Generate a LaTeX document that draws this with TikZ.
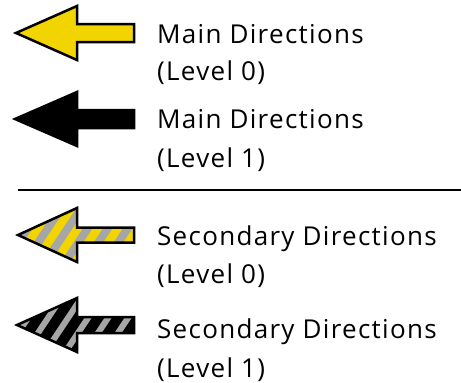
\documentclass[tikz,border=0pt]{standalone}
\usepackage{fontspec}
\setmainfont[LetterSpace=5]{Open Sans}
\usepackage{tikz}
\usetikzlibrary{positioning}

\definecolor{diryellow}{RGB}{242,212,0}
\definecolor{dirgray}{RGB}{166,166,166}

% arrow pointing left: #1 = centre y, #2 = half width of the shaft, #3 = tip x
\newcommand{\dirarrow}[3]{(#3,#1) -- (77,#1-27) -- (77,#1-#2) -- (134,#1-#2) -- (134,#1+#2) -- (77,#1+#2) -- (77,#1+27) -- cycle}

\begin{document}
\begin{tikzpicture}[
    x=1pt, y=-1pt,
    arrowline/.style={draw=black, line width=2.5pt, line join=miter},
    stripe/.style={dirgray, line width=#1},
    legendtext/.style={anchor=base west, inner sep=0pt, font=\fontsize{26}{30}\selectfont}
    ]
    \useasboundingbox (0,0) rectangle (461,383);

    %Arrows
    \fill[diryellow, arrowline] \dirarrow{33}{9}{16};
    \fill[black, arrowline] \dirarrow{119}{9}{15};

    \begin{scope}
        \clip \dirarrow{235}{7.5}{18};
        \fill[diryellow] (0,200) rectangle (140,270);
        \foreach \s in {-60,-40,...,140}
            \draw[stripe=8pt] (\s,270) -- ++(48,-72);
    \end{scope}
    \draw[arrowline] \dirarrow{235}{7.5}{18};

    \begin{scope}
        \clip \dirarrow{325}{8}{17};
        \fill[black] (0,290) rectangle (140,360);
        \foreach \s in {-60,-40,...,140}
            \draw[stripe=6pt] (\s,360) -- ++(48,-72);
    \end{scope}
    \draw[arrowline] \dirarrow{325}{8}{17};

    %Separator
    \coordinate (sepL) at (18,190);
    \coordinate (sepR) at (461,190);
    \draw[line width=2pt] (sepL) -- (sepR);

    %Labels
    \node[legendtext] (main0) at (157,43) {Main Directions};
    \node[legendtext] (main0b) at (157,80) {(Level 0)};
    \node[legendtext] (main1) at (157,128) {Main Directions};
    \node[legendtext] (main1b) at (157,167) {(Level 1)};
    \node[legendtext] (sec0) at (157,245) {Secondary Directions};
    \node[legendtext] (sec0b) at (157,283) {(Level 0)};
    \node[legendtext] (sec1) at (157,338) {Secondary Directions};
    \node[legendtext] (sec1b) at (157,377) {(Level 1)};
\end{tikzpicture}
\end{document}
